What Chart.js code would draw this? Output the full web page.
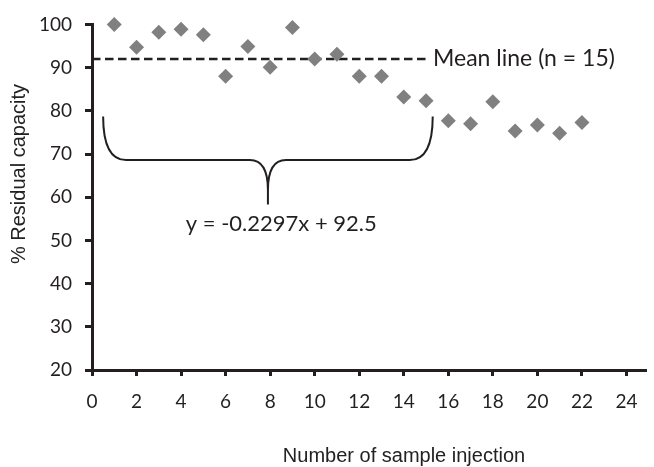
<!DOCTYPE html>
<html><head><meta charset="utf-8">
<script src="https://cdn.jsdelivr.net/npm/chart.js@4.4.0/dist/chart.umd.min.js"></script>
<style>html,body{margin:0;padding:0;background:#fff;} #wrap{width:654px;height:467px;position:relative}</style>
</head><body><div id="wrap"><canvas id="c" width="654" height="467"></canvas></div>
<script>
// ---- data ----
const injections = [1,2,3,4,5,6,7,8,9,10,11,12,13,14,15,16,17,18,19,20,21,22];
const residualCapacity = [100.0,94.7,98.2,98.9,97.6,88.0,94.9,90.1,99.3,92.0,93.1,88.0,88.0,83.2,82.3,77.7,77.0,82.1,75.3,76.7,74.8,77.3];
const meanLineX = [0, 15];
const meanLineY = [92, 92];
const meanLabel = 'Mean line (n = 15)';
const equationLabel = 'y = -0.2297x + 92.5';
const equationAt = [8.5, 53.9];          // data coords of the equation text centre
const braceX = [0.5, 7.9, 15.3];         // left arm, tip, right arm
const braceY = [78.7, 68.6, 58.3];       // arm tops, bar, tip
const xRange = [0, 24.9], xStep = 2;
const yRange = [20, 100], yStep = 10;
const xTitle = 'Number of sample injection';
const yTitle = '% Residual capacity';

const INK = '#231f20';
const tickFont = {family: 'Lato', size: 19};

const annotations = {
  id: 'annotations',
  afterDatasetsDraw(chart) {
    const {ctx, scales: {x, y}} = chart;
    ctx.save();
    // brace
    const xl = x.getPixelForValue(braceX[0]), xm = x.getPixelForValue(braceX[1]), xr = x.getPixelForValue(braceX[2]);
    const yt = y.getPixelForValue(braceY[0]), yh = y.getPixelForValue(braceY[1]), yp = y.getPixelForValue(braceY[2]);
    const r = 23, c = 18, cv = 30;
    ctx.strokeStyle = INK; ctx.lineWidth = 2;
    ctx.beginPath();
    ctx.moveTo(xl, yt);
    ctx.quadraticCurveTo(xl, yh, xl + r, yh);
    ctx.lineTo(xm - c, yh);
    ctx.quadraticCurveTo(xm, yh, xm, yh + cv);
    ctx.lineTo(xm, yp);
    ctx.moveTo(xm, yh + cv);
    ctx.quadraticCurveTo(xm, yh, xm + c, yh);
    ctx.lineTo(xr - r, yh);
    ctx.quadraticCurveTo(xr, yh, xr, yt);
    ctx.stroke();
    // mean label
    ctx.fillStyle = INK;
    ctx.font = '23px Lato';
    ctx.textAlign = 'left'; ctx.textBaseline = 'middle';
    ctx.fillText(meanLabel, x.getPixelForValue(meanLineX[1]) + 7, y.getPixelForValue(meanLineY[1]));
    // equation
    ctx.font = '22px Lato';
    ctx.textAlign = 'center';
    ctx.fillText(equationLabel, x.getPixelForValue(equationAt[0]), y.getPixelForValue(equationAt[1]));
    // axis titles
    ctx.font = '20px "Liberation Sans", Arial';
    ctx.fillStyle = '#222';
    ctx.fillText(xTitle, 404, 456);
    ctx.translate(19, 174);
    ctx.rotate(-Math.PI / 2);
    ctx.fillText(yTitle, 0, 0);
    ctx.restore();
  }
};

new Chart(document.getElementById('c'), {
  type: 'scatter',
  data: {
    datasets: [
      {
        type: 'scatter',
        data: injections.map((v, i) => ({x: v, y: residualCapacity[i]})),
        pointStyle: 'rectRot', pointRadius: 7.5, pointBackgroundColor: '#808080',
        pointBorderWidth: 0, order: 1, clip: false
      },
      {
        type: 'line',
        data: meanLineX.map((v, i) => ({x: v, y: meanLineY[i]})),
        borderColor: INK, borderWidth: 2.6, borderDash: [8.5, 4.5],
        pointRadius: 0, fill: false, order: 2, clip: false
      }
    ]
  },
  options: {
    responsive: false, animation: false,
    layout: {padding: {top: 21, right: 0, left: 0, bottom: 0}},
    plugins: {legend: {display: false}, tooltip: {enabled: false}},
    scales: {
      x: {
        type: 'linear', min: xRange[0], max: xRange[1],
        ticks: {stepSize: xStep, includeBounds: false, font: tickFont, color: INK, padding: 14, maxRotation: 0, autoSkip: false},
        grid: {display: true, drawOnChartArea: false, drawTicks: true, tickLength: 6, tickWidth: 3, tickColor: INK},
        border: {display: true, color: INK, width: 3},
        afterFit(s) { s.height = 97; }
      },
      y: {
        type: 'linear', min: yRange[0], max: yRange[1],
        ticks: {stepSize: yStep, font: tickFont, color: INK, padding: 13},
        grid: {display: true, drawOnChartArea: false, drawTicks: true, tickLength: 7, tickWidth: 3, tickColor: INK},
        border: {display: true, color: INK, width: 3},
        afterFit(s) { s.width = 92; }
      }
    }
  },
  plugins: [annotations]
});
</script></body></html>
